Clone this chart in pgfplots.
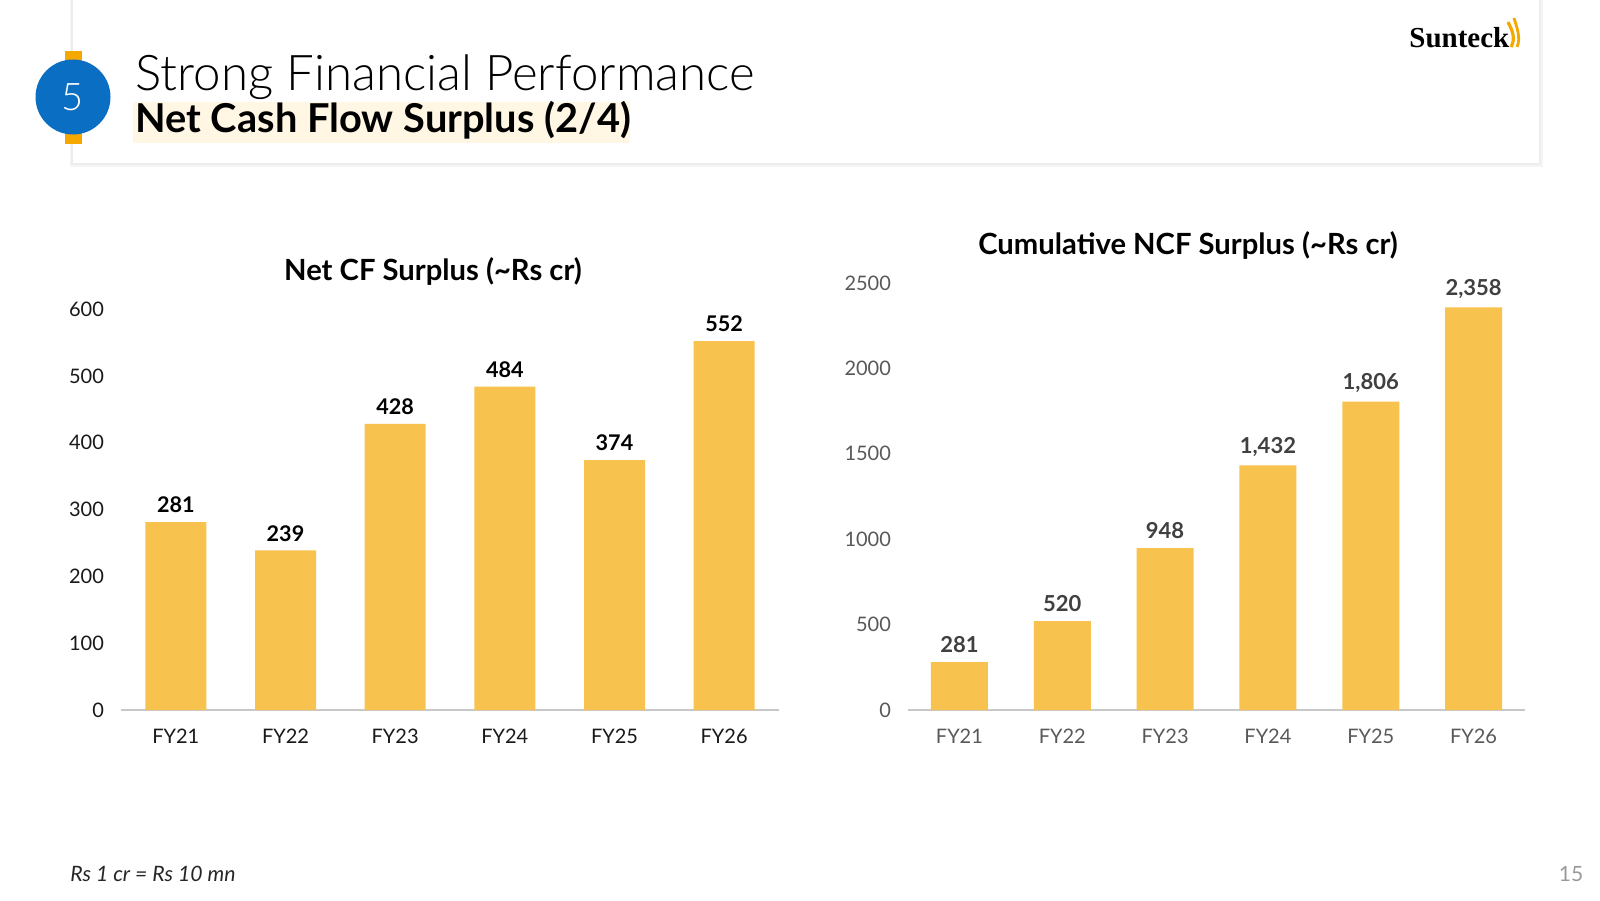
\documentclass[border=0pt]{standalone}
\usepackage{fontspec}
\setmainfont{Lato}
\newfontfamily\lightfont{Lato Light}
\newfontfamily\logofont{Liberation Serif}
\usepackage{pgfplots}
\pgfplotsset{compat=1.18}
\usepackage{pgfplotstable}
\definecolor{barc}{HTML}{F8C24E}
\definecolor{blueC}{HTML}{0A6FC2}
\definecolor{orangeC}{HTML}{F5A800}
\definecolor{hl}{HTML}{FFF6E3}
\definecolor{gtick}{HTML}{595959}
\definecolor{glab}{HTML}{404040}
\definecolor{axc}{HTML}{C8C8C8}

\pgfplotstableread{
x y lab
0 281 281
1 239 239
2 428 428
3 484 484
4 374 374
5 552 552
}\netcf

\pgfplotstableread{
x y lab
0 281 281
1 520 520
2 948 948
3 1432 {1,432}
4 1806 {1,806}
5 2358 {2,358}
}\cumcf

\pgfplotsset{
  barchart/.style={
    scale only axis, anchor=south west,
    xmin=-0.5, xmax=5.5, ymin=0,
    xtick=data, xticklabels={FY21,FY22,FY23,FY24,FY25,FY26},
    axis x line*=bottom, axis y line*=left,
    x axis line style={draw=axc, line width=1pt, -},
    y axis line style={draw=none},
    major tick length=0pt,
    /pgf/number format/assume math mode=true,
    /pgf/number format/1000 sep={},
    ybar,
    nodes near coords, point meta=explicit symbolic,
    clip=false,
  }
}

\begin{document}
\begin{tikzpicture}[x=0.5pt,y=-0.5pt]
\path[use as bounding box, fill=white] (0,0) rectangle (1600,900);
\coordinate (LA) at (121,710);
\coordinate (RA) at (908,710);
% header card
\fill[black!4] (70,-5) rectangle (1543,167);
\fill[black!7] (71,-5) rectangle (1541,165);
\fill[white] (73,-5) rectangle (1539,163);
% badge
\fill[orangeC] (65,51) rectangle (82,144);
\fill[blueC] (73,97) circle (37.5);
\node[text=white, font=\lightfont\fontsize{19}{19}\selectfont] at (73,97) {5};
% titles
\node[anchor=base west, inner sep=0pt, font=\lightfont\fontsize{24.6}{24.6}\selectfont] at (135,90) {Strong Financial Performance};
\fill[hl] (133,102) rectangle (630,143);
\node[anchor=base west, inner sep=0pt, font=\bfseries\fontsize{19.9}{19.9}\selectfont] at (135,132) {Net Cash Flow Surplus (2/4)};
% logo
\node[anchor=base west, inner sep=0pt, font=\logofont\bfseries\fontsize{14.5}{14.5}\selectfont] at (1409,47) {Sunteck};
\draw[orangeC, line width=1.6pt] (1511,47) .. controls (1516,38) and (1512,30) .. (1508,22);
\draw[orangeC, line width=1.4pt] (1517,47) .. controls (1521,38) and (1517,28) .. (1514,18);
% footers
\node[anchor=base west, inner sep=0pt, font=\itshape\fontsize{10.6}{10.6}\selectfont, text=black!85] at (70,881) {Rs 1 cr = Rs 10 mn};
\node[inner sep=0pt, font=\fontsize{10.5}{10.5}\selectfont, text=black!40] at (1571,874) {15};
% chart titles
\node[font=\bfseries\fontsize{14.6}{14.6}\selectfont] at (433,271) {Net CF Surplus (\textasciitilde Rs cr)};
\node[font=\bfseries\fontsize{14.6}{14.6}\selectfont] at (1188,245) {Cumulative NCF Surplus (\textasciitilde Rs cr)};

\begin{axis}[barchart,
  at={(LA)},
  width=329pt, height=200.5pt,
  ymax=600, ytick={0,100,...,600},
  yticklabel style={font=\fontsize{10}{10}\selectfont, text=black!90, xshift=-5pt},
  xticklabel style={font=\fontsize{10}{10}\selectfont, text=black!90, yshift=-6pt},
  bar width=30.5pt,
  nodes near coords style={font=\bfseries\fontsize{10.8}{10.8}\selectfont, text=black, yshift=1pt},
]
\addplot[fill=barc, draw=none] table[x=x, y=y, meta=lab] {\netcf};
\end{axis}

\begin{axis}[barchart,
  at={(RA)},
  width=308.5pt, height=213.5pt,
  ymax=2500, ytick={0,500,...,2500},
  yticklabel style={font=\fontsize{10}{10}\selectfont, text=gtick, xshift=-5pt},
  xticklabel style={font=\fontsize{10}{10}\selectfont, text=gtick, yshift=-6pt},
  bar width=28.5pt,
  nodes near coords style={font=\bfseries\fontsize{11}{11}\selectfont, text=glab, yshift=1pt},
]
\addplot[fill=barc, draw=none] table[x=x, y=y, meta=lab] {\cumcf};
\end{axis}
\end{tikzpicture}
\end{document}
